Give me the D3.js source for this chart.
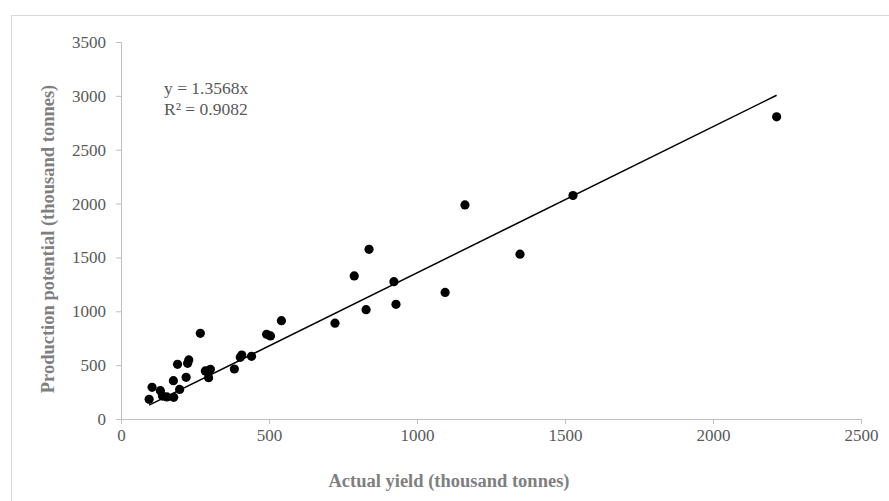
<html>
<head>
<meta charset="utf-8">
<script src="https://cdn.jsdelivr.net/npm/d3@7"></script>
<style>
  body { margin: 0; background: #fff; }
  text { font-family: "Liberation Serif", "Times New Roman", serif; }
</style>
</head>
<body>
<div id="viz"></div>
<script>
var width = 889;
var height = 501;

// actual yield (thousand tonnes)
var actualYield = [95, 105, 133, 140, 155, 178, 177, 198, 191, 220, 229, 225, 268,
  285, 294, 302, 296, 383, 403, 408, 441, 492, 505, 542, 723, 788, 828, 838,
  922, 929, 1095, 1162, 1348, 1527, 2215];
// production potential (thousand tonnes)
var potential = [183, 294, 263, 213, 205, 201, 356, 275, 508, 387, 548, 517, 795,
  446, 430, 461, 384, 464, 573, 594, 582, 786, 771, 913, 890, 1328, 1015, 1575,
  1275, 1065, 1175, 1987, 1530, 2075, 2805];
var slope = 1.3568;
var xTicks = [0, 500, 1000, 1500, 2000, 2500];
var yTicks = [0, 500, 1000, 1500, 2000, 2500, 3000, 3500];

var svg = d3.select("#viz").append("svg")
  .attr("width", width)
  .attr("height", height);

// chart area border
svg.append("rect")
  .attr("x", 11.5).attr("y", 15.5)
  .attr("width", 900).attr("height", 520)
  .attr("fill", "none")
  .attr("stroke", "#d9d9d9");

var x = d3.scaleLinear().domain([0, 2500]).range([121, 861]);
var y = d3.scaleLinear().domain([0, 3500]).range([419, 42]);

var axisColor = "#bfbfbf";
var textColor = "#595959";

var xAxis = svg.append("g")
  .attr("transform", "translate(0,419)")
  .call(d3.axisBottom(x).tickValues(xTicks).tickFormat(d3.format("d"))
    .tickSize(5).tickPadding(5));
var yAxis = svg.append("g")
  .attr("transform", "translate(121,0)")
  .call(d3.axisLeft(y).tickValues(yTicks).tickFormat(d3.format("d"))
    .tickSize(5).tickPadding(10));

[xAxis, yAxis].forEach(function (g) {
  g.select(".domain").attr("stroke", axisColor);
  g.selectAll(".tick line").attr("stroke", axisColor);
  g.selectAll(".tick text")
    .attr("fill", textColor)
    .style("font-size", "17px")
    .style("font-family", "'Liberation Serif', serif");
});

var pts = actualYield.map(function (v, i) { return [v, potential[i]]; });

// trendline through origin over the data range
var xMin = d3.min(actualYield), xMax = d3.max(actualYield);
svg.append("line")
  .attr("x1", x(xMin)).attr("y1", y(slope * xMin))
  .attr("x2", x(xMax)).attr("y2", y(slope * xMax))
  .attr("stroke", "#000")
  .attr("stroke-width", 1.5);

svg.selectAll("circle")
  .data(pts)
  .enter().append("circle")
  .attr("cx", function (d) { return x(d[0]); })
  .attr("cy", function (d) { return y(d[1]); })
  .attr("r", 4.6)
  .attr("fill", "#000");

// equation
svg.append("text")
  .attr("x", 164).attr("y", 94)
  .attr("fill", textColor)
  .style("font-size", "17.5px")
  .text("y = 1.3568x");
svg.append("text")
  .attr("x", 164).attr("y", 115)
  .attr("fill", textColor)
  .style("font-size", "17.5px")
  .text("R² = 0.9082");

// axis titles
svg.append("text")
  .attr("x", 449).attr("y", 487)
  .attr("text-anchor", "middle")
  .attr("fill", "#7f7f7f")
  .style("font-size", "18.5px")
  .style("font-weight", "bold")
  .text("Actual yield (thousand tonnes)");
svg.append("text")
  .attr("transform", "translate(54,239) rotate(-90)")
  .attr("text-anchor", "middle")
  .attr("fill", "#7f7f7f")
  .style("font-size", "18.5px")
  .style("font-weight", "bold")
  .text("Production potential (thousand tonnes)");
</script>
</body>
</html>
